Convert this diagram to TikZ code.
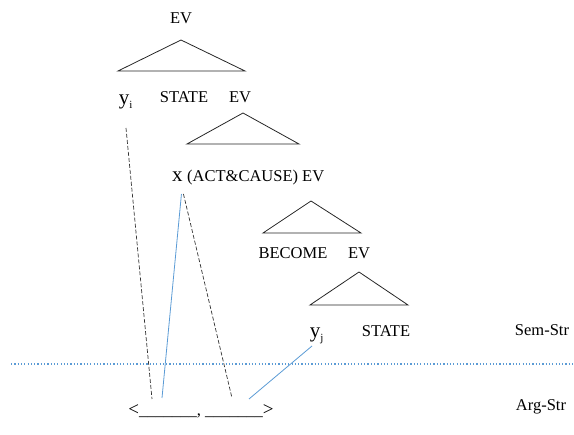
\documentclass[tikz,border=0pt]{standalone}
\usepackage{fontspec}
\setmainfont{Liberation Serif}
\begin{document}
\begin{tikzpicture}[x=1pt,y=-1pt,
  lbl/.style={inner sep=0pt,font=\fontsize{16.5}{18}\selectfont},
  var/.style={inner sep=0pt,font=\fontsize{21}{23}\selectfont},
  tri/.style={draw=black!85,line width=0.8pt,line join=miter},
  dashlink/.style={draw=black!80,line width=0.7pt,dash pattern=on 4pt off 2pt},
  bluelink/.style={draw=linkblue,line width=0.8pt},
  divider/.style={draw=linkblue,line width=1.4pt,dash pattern=on 1.2pt off 2.1pt}]
\definecolor{linkblue}{RGB}{91,155,213}
\useasboundingbox (0,0) rectangle (574,435);
% tree
\node[lbl] (ev0) at (181,18) {EV};
\draw[tri] (118,71) -- (181,40) -- (245,71) -- cycle;
\node[var,anchor=base] (yi) at (126,105) {y\textsubscript{\fontsize{11}{12}\selectfont i}};
\node[lbl] (st1) at (184,97) {STATE};
\node[lbl] (ev1) at (240,97) {EV};
\draw[tri] (187,144) -- (243,113) -- (299,144) -- cycle;
\node[var,anchor=base west] (x) at (172,182) {x};
\node[lbl,anchor=base west] (act) at (x.base east) {\ (ACT\&CAUSE) EV};
\draw[tri] (263,233) -- (311,201) -- (361,233) -- cycle;
\node[lbl] (bec) at (293,253) {BECOME};
\node[lbl] (ev3) at (359,253) {EV};
\draw[tri] (310,305) -- (359,272) -- (408,305) -- cycle;
\node[var,anchor=base] (yj) at (317,338) {y\textsubscript{\fontsize{11}{12}\selectfont j}};
\node[lbl] (st2) at (386,331) {STATE};
\node[lbl] (sem) at (542,330) {Sem-Str};
% divider
\coordinate (dl) at (11,364);
\coordinate (dr) at (574,364);
\draw[divider] (dl) -- (dr);
% argument structure
\node[lbl,anchor=base] (arg) at (201,416) {{\fontsize{19}{20}\selectfont<}\_\_\_\_\_\_\_,\ \_\_\_\_\_\_\_{\fontsize{19}{20}\selectfont>}};
\node[lbl] (argstr) at (541,407) {Arg-Str};
\coordinate (s1a) at (152,399);
\coordinate (s1b) at (162,398);
\coordinate (s2a) at (232,398);
\coordinate (s2b) at (249,399);
% links
\draw[dashlink] ([xshift=0pt,yshift=-23pt]yi.base) -- (s1a);
\draw[bluelink] ([xshift=4pt,yshift=-12pt]x.base) -- (s1b);
\draw[dashlink] ([xshift=6pt,yshift=-12pt]x.base) -- (s2a);
\draw[bluelink] ([xshift=-5pt,yshift=-8pt]yj.base) -- (s2b);
\end{tikzpicture}
\end{document}
